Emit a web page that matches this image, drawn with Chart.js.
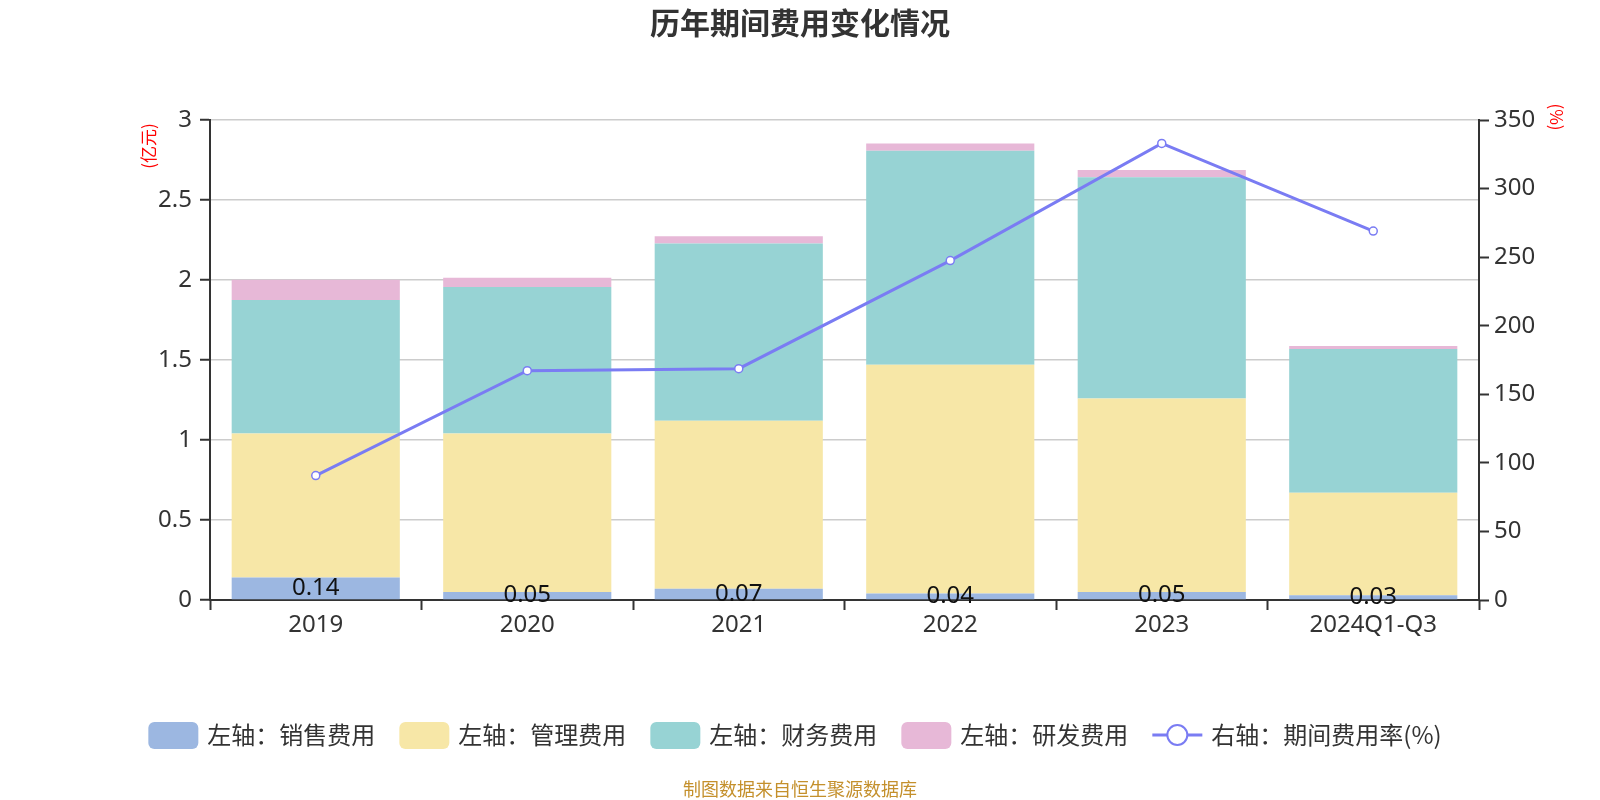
<!DOCTYPE html>
<html>
<head>
<meta charset="utf-8">
<script src="https://cdn.jsdelivr.net/npm/chart.js@4.4.1/dist/chart.umd.min.js"></script>
<style>
  html, body { margin: 0; padding: 0; background: #fff; }
  #wrap { width: 1600px; height: 800px; }
</style>
</head>
<body>
<div id="wrap"><canvas id="feeChart" width="1600" height="800"></canvas></div>
<script>
// 数据
const years = ['2019', '2020', '2021', '2022', '2023', '2024Q1-Q3'];
const salesFee = [0.14, 0.05, 0.07, 0.04, 0.05, 0.03];
const adminFee = [0.90, 0.99, 1.05, 1.43, 1.21, 0.64];
const financeFee = [0.835, 0.917, 1.108, 1.338, 1.382, 0.898];
const rdFee = [0.127, 0.057, 0.045, 0.045, 0.045, 0.02];
const feeRate = [90.7, 167.2, 168.7, 247.5, 332.9, 269.0];
const leftTicks = [0, 0.5, 1, 1.5, 2, 2.5, 3];
const rightTicks = [0, 50, 100, 150, 200, 250, 300, 350];

const FONT = '"Noto Sans", "Noto Sans CJK SC", sans-serif';
const CJK = '"Noto Sans CJK SC", "Noto Sans", sans-serif';

const colors = {
    sales: '#9cb7e1',
    admin: '#f7e7a7',
    finance: '#97d3d4',
    rd: '#e7b8d7',
    rate: '#7a7cf3'
};

// 柱子上的数值（只有销售费用）
const barLabels = {
    id: 'barLabels',
    afterDatasetsDraw(chart) {
        const ctx = chart.ctx;
        const meta = chart.getDatasetMeta(0);
        ctx.save();
        ctx.font = '24px ' + FONT;
        ctx.fillStyle = '#111';
        ctx.textAlign = 'center';
        ctx.textBaseline = 'middle';
        meta.data.forEach((bar, i) => {
            ctx.fillText(salesFee[i].toFixed(2), bar.x, (bar.y + bar.base) / 2);
        });
        ctx.restore();
    }
};

// 标题、轴名、图例、来源
const decorations = {
    id: 'decorations',
    afterDraw(chart) {
        const ctx = chart.ctx;
        ctx.save();

        ctx.fillStyle = '#333';
        ctx.font = 'bold 30px ' + CJK;
        ctx.textAlign = 'center';
        ctx.textBaseline = 'middle';
        ctx.fillText('历年期间费用变化情况', 800, 23);

        // 轴名
        ctx.fillStyle = '#ff0000';
        ctx.font = '17px ' + CJK;
        ctx.save();
        ctx.translate(149, 146);
        ctx.rotate(-Math.PI / 2);
        ctx.fillText('(亿元)', 0, 0);
        ctx.restore();
        ctx.save();
        ctx.translate(1556, 117);
        ctx.rotate(Math.PI / 2);
        ctx.fillText('(%)', 0, 0);
        ctx.restore();

        // 图例
        ctx.font = '24px ' + CJK;
        ctx.textAlign = 'left';
        const items = chart.data.datasets.map(ds => ({
            text: ds.label,
            color: ds.type === 'line' ? ds.borderColor : ds.backgroundColor,
            isLine: ds.type === 'line'
        }));
        const boxW = 50, gap = 9, spacing = 24;
        let total = 0;
        items.forEach(it => {
            it.w = boxW + gap + ctx.measureText(it.text).width;
            total += it.w;
        });
        total += spacing * (items.length - 1);
        let x = 795 - total / 2;
        const cy = 735;
        items.forEach(it => {
            if (it.isLine) {
                ctx.strokeStyle = it.color;
                ctx.lineWidth = 3;
                ctx.beginPath();
                ctx.moveTo(x, cy);
                ctx.lineTo(x + boxW, cy);
                ctx.stroke();
                ctx.beginPath();
                ctx.arc(x + boxW / 2, cy, 10, 0, Math.PI * 2);
                ctx.fillStyle = '#fff';
                ctx.fill();
                ctx.lineWidth = 2;
                ctx.stroke();
            } else {
                ctx.fillStyle = it.color;
                ctx.beginPath();
                ctx.roundRect(x, cy - 13, boxW, 27, 6);
                ctx.fill();
            }
            ctx.fillStyle = '#333';
            ctx.textBaseline = 'middle';
            ctx.fillText(it.text, x + boxW + gap, cy);
            x += it.w + spacing;
        });

        // 来源
        ctx.fillStyle = '#c4902c';
        ctx.font = '18px ' + CJK;
        ctx.textAlign = 'center';
        ctx.fillText('制图数据来自恒生聚源数据库', 800, 789);

        ctx.restore();
    }
};

const ctx = document.getElementById('feeChart').getContext('2d');
const feeChart = new Chart(ctx, {
    data: {
        labels: years,
        datasets: [
            { type: 'bar', label: '左轴：销售费用', data: salesFee, backgroundColor: colors.sales, yAxisID: 'y', order: 1 },
            { type: 'bar', label: '左轴：管理费用', data: adminFee, backgroundColor: colors.admin, yAxisID: 'y', order: 1 },
            { type: 'bar', label: '左轴：财务费用', data: financeFee, backgroundColor: colors.finance, yAxisID: 'y', order: 1 },
            { type: 'bar', label: '左轴：研发费用', data: rdFee, backgroundColor: colors.rd, yAxisID: 'y', order: 1 },
            {
                type: 'line', label: '右轴：期间费用率(%)', data: feeRate, yAxisID: 'y1', order: 0,
                borderColor: colors.rate, borderWidth: 3, pointRadius: 4, pointBorderWidth: 1.5,
                pointBackgroundColor: '#fff', pointBorderColor: colors.rate, tension: 0
            }
        ]
    },
    options: {
        responsive: false,
        animation: false,
        layout: { padding: { top: 120, left: 0, right: 0, bottom: 0 } },
        plugins: {
            legend: { display: false },
            title: { display: false },
            tooltip: { enabled: false }
        },
        datasets: {
            bar: { barPercentage: 0.795, categoryPercentage: 1 }
        },
        scales: {
            x: {
                stacked: true,
                offset: true,
                afterFit: s => { s.height = 200; },
                grid: { offset: true, drawOnChartArea: false, tickLength: 10, tickColor: '#333', tickWidth: 2 },
                border: { color: '#333', width: 2 },
                ticks: { color: '#333', font: { size: 24, family: FONT }, padding: 1 }
            },
            y: {
                stacked: true,
                min: 0,
                max: 3,
                afterFit: s => { s.width = 210; },
                afterBuildTicks: s => { s.ticks = leftTicks.map(v => ({ value: v })); },
                grid: { color: '#cccccc', lineWidth: 1.5, tickLength: 10, tickColor: '#333', tickWidth: 2 },
                border: { color: '#333', width: 2 },
                ticks: { color: '#333', font: { size: 24, family: FONT }, padding: 8, callback: v => String(v) }
            },
            y1: {
                position: 'right',
                min: 0,
                max: 350,
                afterFit: s => { s.width = 121; },
                afterBuildTicks: s => { s.ticks = rightTicks.map(v => ({ value: v })); },
                grid: { drawOnChartArea: false, tickLength: 10, tickColor: '#333', tickWidth: 2 },
                border: { color: '#333', width: 2 },
                ticks: { color: '#333', font: { size: 24, family: FONT }, padding: 5, callback: v => String(v) }
            }
        }
    },
    plugins: [barLabels, decorations]
});
</script>
</body>
</html>
